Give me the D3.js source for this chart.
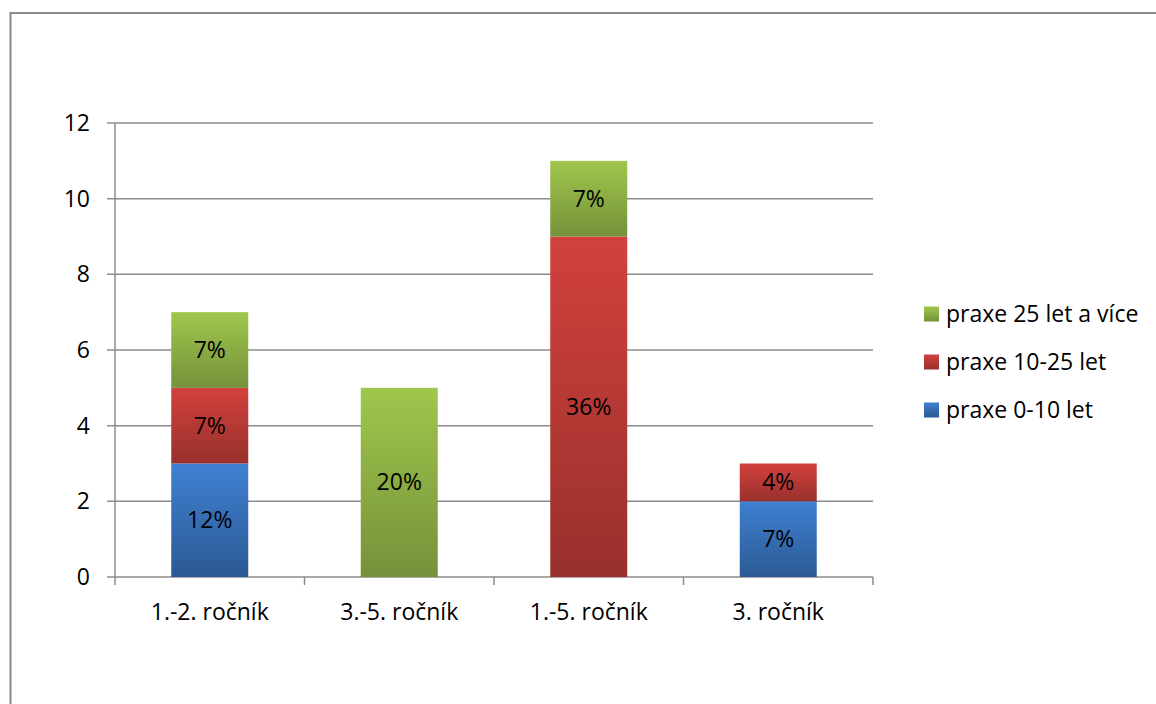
<!DOCTYPE html>
<html><head><meta charset="utf-8">
<script src="https://cdn.jsdelivr.net/npm/d3@7"></script>
<style>body{margin:0;background:#fff;} svg{display:block;} text{font-family:"Open Sans",sans-serif;}</style>
</head><body>
<svg id="c" width="1156" height="704"></svg>
<script>
const categories = ["1.-2. ročník", "3.-5. ročník", "1.-5. ročník", "3. ročník"];
const seriesNames = ["praxe 0-10 let", "praxe 10-25 let", "praxe 25 let a více"];
const praxe0_10 = [3, 0, 0, 2];
const praxe10_25 = [2, 0, 9, 1];
const praxe25plus = [2, 5, 2, 0];
const labels0_10 = ["12%", "", "", "7%"];
const labels10_25 = ["7%", "", "36%", "4%"];
const labels25plus = ["7%", "20%", "7%", ""];
const yTicks = [0, 2, 4, 6, 8, 10, 12];

(function () {
const FS = 23;
const svg = d3.select("#c");
const defs = svg.append("defs");
const grads = [["gBlue", "#3f80d2", "#2b5a94"], ["gRed", "#d2413d", "#98302c"], ["gGreen", "#a0c64c", "#74923a"]];
grads.forEach(([id, a, b]) => {
  const g = defs.append("linearGradient").attr("id", id).attr("x1", 0).attr("y1", 0).attr("x2", 0).attr("y2", 1);
  g.append("stop").attr("offset", "0%").attr("stop-color", a);
  g.append("stop").attr("offset", "100%").attr("stop-color", b);
});

// outer frame
svg.append("rect").attr("x", 10.5).attr("y", 13).attr("width", 1160).attr("height", 720)
  .attr("fill", "none").attr("stroke", "#8a8a8a").attr("stroke-width", 2);

const pL = 115, pR = 873, pT = 123, pB = 577;
const x = d3.scaleBand().domain(categories).range([pL, pR]).paddingInner(0).paddingOuter(0);
const y = d3.scaleLinear().domain([0, 12]).range([pB, pT]);

// gridlines
svg.append("g").selectAll("line").data(yTicks).join("line")
  .attr("x1", pL - 8).attr("x2", pR).attr("y1", d => y(d)).attr("y2", d => y(d))
  .attr("stroke", "#8c8c8c").attr("stroke-width", 1.5);

// y tick labels
svg.append("g").selectAll("text").data(yTicks).join("text")
  .attr("x", 90).attr("y", d => y(d)).attr("dy", "0.35em").attr("text-anchor", "end")
  .attr("font-size", FS).attr("fill", "#000").text(d => d);

// y axis line
svg.append("line").attr("x1", pL).attr("x2", pL).attr("y1", pT).attr("y2", pB)
  .attr("stroke", "#8c8c8c").attr("stroke-width", 1.5);

// category tick marks
const bounds = categories.map(c => x(c)).concat([pR]);
svg.append("g").selectAll("line").data(bounds).join("line")
  .attr("x1", d => d).attr("x2", d => d).attr("y1", pB).attr("y2", pB + 8)
  .attr("stroke", "#8c8c8c").attr("stroke-width", 1.5);

// stacked bars
const rows = categories.map((c, i) => ({cat: c, s0: praxe0_10[i], s1: praxe10_25[i], s2: praxe25plus[i]}));
const stacked = d3.stack().keys(["s0", "s1", "s2"])(rows);
const fills = ["url(#gBlue)", "url(#gRed)", "url(#gGreen)"];
const lbls = [labels0_10, labels10_25, labels25plus];
const barW = 77;
stacked.forEach((layer, k) => {
  const g = svg.append("g");
  layer.forEach((d, i) => {
    if (d[1] - d[0] <= 0) return;
    const cx = x(categories[i]) + x.bandwidth() / 2;
    g.append("rect").attr("x", cx - barW / 2).attr("width", barW)
      .attr("y", y(d[1])).attr("height", y(d[0]) - y(d[1])).attr("fill", fills[k]);
    g.append("text").attr("x", cx).attr("y", (y(d[0]) + y(d[1])) / 2).attr("dy", "0.35em")
      .attr("text-anchor", "middle").attr("font-size", FS).attr("fill", "#000").text(lbls[k][i]);
  });
});

// category labels
svg.append("g").selectAll("text").data(categories).join("text")
  .attr("x", d => x(d) + x.bandwidth() / 2).attr("y", 612).attr("dy", "0.35em")
  .attr("text-anchor", "middle").attr("font-size", FS).attr("fill", "#000").text(d => d);

// legend
const legendOrder = [2, 1, 0];
const lg = svg.append("g");
legendOrder.forEach((k, j) => {
  const yy = 314 + j * 48;
  lg.append("rect").attr("x", 924).attr("y", yy - 7.5).attr("width", 15).attr("height", 15).attr("fill", fills[k]);
  lg.append("text").attr("x", 946).attr("y", yy).attr("dy", "0.35em").attr("font-size", FS).attr("fill", "#000").text(seriesNames[k]);
});
})();
</script>
</body></html>
